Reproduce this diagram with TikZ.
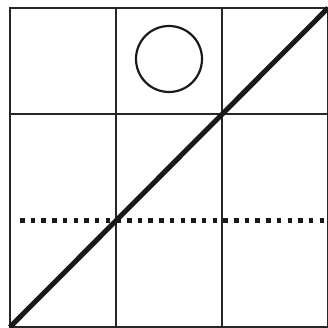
\documentclass[tikz,border=0pt]{standalone}
\begin{document}
\begin{tikzpicture}[
    x=1pt, y=1pt,
    gridline/.style={line width=1.4pt, color=black!85},
    diag/.style={line width=5pt, color=black!90},
    dotline/.style={line width=5pt, color=black!90, dash pattern=on 4.5pt off 6.2pt},
    ring/.style={line width=2.2pt, color=black!90}
]
    \useasboundingbox (0,0) rectangle (328,328);

    % Corners of the grid
    \coordinate (BL) at (10,1);
    \coordinate (TR) at (328,320);

    % Grid lines
    \draw[gridline] (BL) rectangle (TR);
    \draw[gridline] (116,1) -- (116,320);
    \draw[gridline] (222,1) -- (222,320);
    \draw[gridline] (10,214) -- (328,214);

    % Dotted line
    \coordinate (D0) at (20,107);
    \coordinate (D1) at (328,107);
    \draw[dotline] (D0) -- (D1);

    % Diagonal
    \draw[diag] (BL) -- (TR);

    % Circle in the top middle cell
    \coordinate (C) at (169,269);
    \draw[ring] (C) circle (33);

\end{tikzpicture}
\end{document}
